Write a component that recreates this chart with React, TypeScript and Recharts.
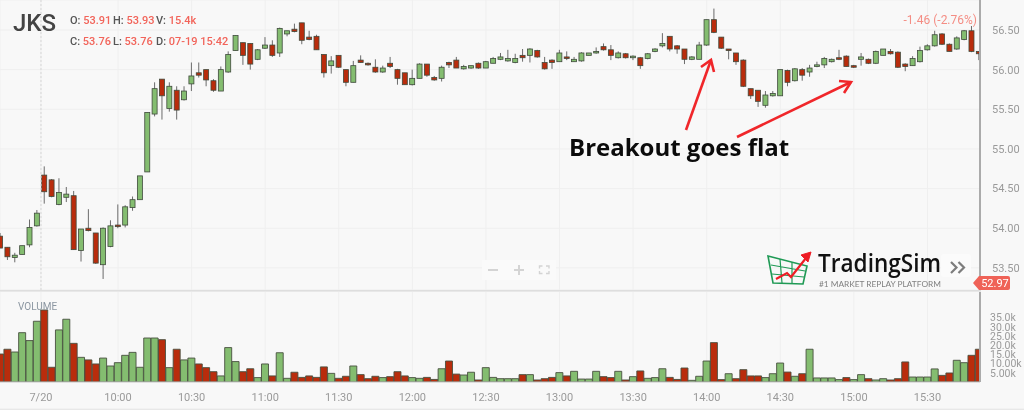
import React from 'react';
import { ComposedChart, Bar, Cell, XAxis, YAxis, CartesianGrid, ReferenceLine } from 'recharts';

// 3 minute bars, the first one prints at 9:12 and the last at 15:51
const firstBarMinute = 552;
const barMinutes = 3;

const openPrices = [
  53.9, 53.76, 53.63, 53.67, 53.79, 54.03, 54.67, 54.61, 54.3, 54.39, 54.41, 53.72, 54.0, 53.94, 53.54, 53.77,
  54.04, 54.04, 54.26, 54.36, 54.71, 55.44, 55.88, 55.51, 55.74, 55.62, 55.82, 55.96, 56.0, 55.86, 55.73, 55.97,
  56.24, 56.34, 56.33, 56.13, 56.27, 56.31, 56.21, 56.45, 56.51, 56.59, 56.41, 56.42, 56.19, 56.05, 56.18, 56.0,
  55.84, 56.12, 56.08, 56.03, 55.97, 56.08, 56.0, 55.96, 55.81, 55.89, 56.07, 55.9, 55.89, 56.09, 56.12, 56.01,
  56.02, 56.08, 56.02, 56.08, 56.13, 56.11, 56.09, 56.18, 56.18, 56.24, 56.09, 56.12, 56.1, 56.16, 56.1, 56.11,
  56.18, 56.21, 56.29, 56.25, 56.15, 56.2, 56.15, 56.15, 56.14, 56.23, 56.3, 56.42, 56.3, 56.26, 56.13, 56.13,
  56.31, 56.63, 56.41, 56.26, 56.21, 56.12, 55.76, 55.74, 55.55, 55.67, 55.67, 55.99, 55.86, 56.0, 55.97, 56.04,
  56.06, 56.1, 56.15, 56.17, 56.05, 56.13, 56.13, 56.08, 56.18, 56.23, 56.22, 56.07, 56.05, 56.1, 56.25, 56.3,
  56.45, 56.32, 56.26, 56.38, 56.49, 56.23,
];
const highPrices = [
  53.94, 53.76, 53.69, 53.78, 54.11, 54.23, 54.78, 54.62, 54.63, 54.52, 54.47, 53.99, 54.24, 53.94, 54.01, 54.1,
  54.3, 54.29, 54.4, 54.66, 55.46, 55.84, 55.88, 55.84, 55.79, 55.79, 56.09, 56.09, 56.0, 55.88, 56.04, 56.23,
  56.43, 56.34, 56.33, 56.26, 56.41, 56.37, 56.53, 56.49, 56.58, 56.59, 56.49, 56.44, 56.19, 56.17, 56.18, 56.0,
  56.11, 56.18, 56.09, 56.13, 56.05, 56.16, 56.01, 55.96, 56.0, 56.08, 56.07, 55.92, 56.05, 56.1, 56.16, 56.06,
  56.05, 56.09, 56.11, 56.16, 56.21, 56.25, 56.2, 56.26, 56.27, 56.25, 56.16, 56.13, 56.25, 56.23, 56.16, 56.22,
  56.21, 56.28, 56.33, 56.31, 56.23, 56.21, 56.18, 56.16, 56.21, 56.27, 56.46, 56.42, 56.31, 56.26, 56.17, 56.35,
  56.63, 56.77, 56.41, 56.26, 56.21, 56.13, 55.76, 55.74, 55.73, 55.73, 56.0, 56.0, 56.02, 56.02, 56.06, 56.1,
  56.16, 56.14, 56.25, 56.18, 56.06, 56.21, 56.14, 56.24, 56.26, 56.26, 56.23, 56.08, 56.17, 56.29, 56.32, 56.49,
  56.46, 56.33, 56.42, 56.5, 56.55, 56.23,
];
const lowPrices = [
  53.75, 53.6, 53.57, 53.67, 53.76, 54.02, 54.31, 54.39, 54.29, 54.33, 53.73, 53.58, 53.96, 53.55, 53.36, 53.76,
  54.0, 54.01, 54.22, 54.36, 54.71, 55.41, 55.37, 55.47, 55.37, 55.61, 55.73, 55.9, 55.79, 55.72, 55.73, 55.96,
  56.24, 56.06, 56.0, 56.12, 56.26, 56.16, 56.16, 56.42, 56.47, 56.32, 56.37, 56.25, 55.9, 55.95, 56.02, 55.79,
  55.84, 56.09, 56.05, 55.96, 55.96, 56.02, 55.81, 55.81, 55.8, 55.89, 55.91, 55.86, 55.85, 56.02, 56.02, 56.0,
  56.01, 56.01, 56.02, 56.08, 56.12, 56.1, 56.08, 56.1, 56.09, 56.15, 56.0, 56.01, 56.1, 56.12, 56.1, 56.1,
  56.18, 56.2, 56.24, 56.12, 56.14, 56.14, 56.12, 56.01, 56.13, 56.22, 56.28, 56.23, 56.2, 56.07, 56.12, 56.13,
  56.3, 56.46, 56.26, 56.13, 56.06, 55.78, 55.63, 55.53, 55.52, 55.66, 55.67, 55.79, 55.85, 55.86, 55.91, 56.03,
  56.02, 56.09, 56.12, 56.04, 56.02, 56.05, 56.07, 56.07, 56.18, 56.19, 56.02, 55.98, 56.05, 56.09, 56.24, 56.29,
  56.31, 56.23, 56.25, 56.37, 56.22, 56.12,
];
const closePrices = [
  53.75, 53.64, 53.66, 53.78, 54.01, 54.19, 54.46, 54.4, 54.45, 54.43, 53.73, 53.99, 53.97, 53.56, 54.0, 54.03,
  54.02, 54.27, 54.36, 54.66, 55.46, 55.76, 55.67, 55.79, 55.49, 55.73, 55.92, 55.93, 55.87, 55.74, 56.0, 56.19,
  56.43, 56.18, 56.07, 56.25, 56.31, 56.18, 56.52, 56.49, 56.48, 56.37, 56.38, 56.25, 55.96, 56.11, 56.03, 55.84,
  56.05, 56.09, 56.06, 55.97, 56.02, 56.04, 55.89, 55.81, 55.89, 56.07, 55.93, 55.87, 56.03, 56.06, 56.02, 56.04,
  56.05, 56.02, 56.1, 56.14, 56.16, 56.14, 56.14, 56.15, 56.26, 56.16, 56.01, 56.09, 56.21, 56.14, 56.13, 56.21,
  56.21, 56.23, 56.25, 56.18, 56.21, 56.15, 56.17, 56.05, 56.2, 56.26, 56.33, 56.26, 56.26, 56.13, 56.16, 56.31,
  56.63, 56.47, 56.27, 56.24, 56.1, 55.79, 55.67, 55.6, 55.68, 55.7, 56.0, 55.84, 56.01, 55.93, 56.02, 56.06,
  56.14, 56.13, 56.13, 56.04, 56.03, 56.16, 56.08, 56.23, 56.26, 56.2, 56.03, 56.04, 56.14, 56.24, 56.3, 56.44,
  56.32, 56.23, 56.4, 56.49, 56.23, 56.2,
];
// thousands of shares
const volumes = [
  15.2, 17.8, 16.3, 26.8, 22.5, 33.0, 39.1, 8.0, 28.3, 34.1, 21.0, 13.4, 12.0, 9.8, 13.0, 8.7,
  10.5, 14.5, 16.1, 8.0, 23.9, 23.9, 23.0, 7.8, 17.8, 12.0, 13.0, 9.8, 7.8, 5.6, 3.3, 18.7,
  11.1, 5.6, 7.2, 2.4, 9.8, 3.3, 15.9, 2.0, 5.3, 2.5, 3.3, 2.5, 8.2, 4.7, 2.0, 3.1,
  8.7, 4.0, 1.8, 3.1, 2.4, 2.9, 5.6, 3.3, 2.4, 2.0, 2.5, 1.4, 7.2, 11.4, 4.3, 3.8,
  5.3, 1.1, 7.8, 2.5, 1.8, 1.8, 1.8, 4.0, 4.0, 1.1, 1.8, 2.5, 5.1, 3.3, 5.8, 1.6,
  1.6, 5.8, 2.9, 2.4, 5.8, 1.1, 2.9, 6.0, 2.0, 2.4, 7.2, 2.5, 1.4, 7.6, 0.9, 3.1,
  11.4, 21.4, 1.3, 4.5, 1.8, 6.7, 3.3, 3.3, 2.4, 4.5, 10.3, 5.4, 3.1, 4.5, 17.8, 2.2,
  2.2, 2.2, 1.3, 2.4, 1.3, 4.0, 1.8, 1.1, 1.8, 1.1, 1.8, 10.9, 2.7, 2.7, 2.7, 7.1,
  3.6, 4.9, 11.8, 10.5, 14.5, 17.8,
];
// 1 = green volume bar, 0 = red, not always the same as the candle above it
const greenVolume = [
  0, 0, 1, 1, 1, 1, 0, 0, 1, 1, 0, 1, 0, 0, 1, 1,
  1, 1, 1, 1, 1, 1, 0, 1, 0, 1, 1, 0, 0, 0, 1, 1,
  1, 0, 0, 1, 1, 0, 1, 1, 0, 0, 0, 0, 0, 1, 0, 0,
  1, 0, 0, 0, 1, 0, 0, 0, 1, 1, 0, 0, 1, 0, 0, 1,
  1, 0, 1, 1, 1, 1, 1, 0, 1, 0, 0, 0, 1, 0, 1, 1,
  1, 1, 0, 0, 1, 0, 1, 0, 1, 1, 1, 0, 0, 0, 1, 1,
  1, 0, 0, 1, 0, 0, 0, 0, 1, 1, 1, 0, 1, 0, 1, 1,
  1, 1, 1, 0, 1, 1, 0, 1, 1, 0, 0, 0, 1, 1, 1, 1,
  0, 0, 1, 1, 0, 0,
];

const priceTicks = [53.5, 54, 54.5, 55, 55.5, 56, 56.5];
const volumeTicks = [5, 10, 15, 20, 25, 30, 35];
const volumeTickLabels = ['5.00k', '10.00k', '15.0k', '20.0k', '25.0k', '30.0k', '35.0k'];
const timeTicks = [568.6, 600, 630, 660, 690, 720, 750, 780, 810, 840, 870, 900, 930];
const timeTickLabels = ['7/20', '10:00', '10:30', '11:00', '11:30', '12:00', '12:30', '13:00', '13:30', '14:00', '14:30', '15:00', '15:30'];

const upColor = '#84bd70';
const downColor = '#b92c0c';
const edgeColor = '#3f4a3c';
const gridColor = '#efefef';
const axisTextColor = '#9a9a9a';
const alertRed = '#f2645a';
const timeDomain: [number, number] = [551.9, 951.4];

const table = openPrices.map((open, i) => ({
  minute: firstBarMinute + i * barMinutes,
  open,
  high: highPrices[i],
  low: lowPrices[i],
  close: closePrices[i],
  volume: volumes[i],
  isUp: greenVolume[i] === 1,
}));

const Candle = (props: any) => {
  const { x, y, width, height, payload } = props;
  const { open, close, high, low } = payload;
  const perUnit = Math.abs(height) / (high - low);
  const top = Math.min(y, y + height);
  const bodyTop = top + (high - Math.max(open, close)) * perUnit;
  const bodyHeight = Math.max(Math.abs(open - close) * perUnit, 1.5);
  const center = x + width / 2;
  return (
    <g>
      <line x1={center} x2={center} y1={top} y2={top + Math.abs(height)} stroke="#6b6b6b" strokeWidth={1} />
      <rect
        x={x}
        y={bodyTop}
        width={width}
        height={bodyHeight}
        fill={close >= open ? upColor : downColor}
        stroke={edgeColor}
        strokeWidth={0.8}
      />
    </g>
  );
};

const Header = () => {
  const label = { fill: '#555', fontWeight: 500 };
  const value = { fill: alertRed, fontWeight: 500 };
  return (
    <g fontFamily="Roboto" fontSize={11}>
      <text x={13} y={31} fontSize={24} fontWeight={500} fill="#444">JKS</text>
      <text x={70} y={24}><tspan {...label}>O: </tspan><tspan {...value}>53.91</tspan></text>
      <text x={113} y={24}><tspan {...label}>H: </tspan><tspan {...value}>53.93</tspan></text>
      <text x={156} y={24}><tspan {...label}>V: </tspan><tspan {...value}>15.4k</tspan></text>
      <text x={70} y={45}><tspan {...label}>C: </tspan><tspan {...value}>53.76</tspan></text>
      <text x={113} y={45}><tspan {...label}>L: </tspan><tspan {...value}>53.76</tspan></text>
      <text x={156} y={45}><tspan {...label}>D: </tspan><tspan {...value}>07-19 15:42</tspan></text>
      <text x={977} y={24} textAnchor="end" fontSize={12} fill="#f48d84">-1.46 (-2.76%)</text>
      <text x={18} y={310} fontSize={10} fill="#8b96a1">VOLUME</text>
    </g>
  );
};

const Notes = () => (
  <g>
    <text x={569} y={156} fontFamily="Open Sans" fontWeight={700} fontSize={24} fill="#0b0b0b">Breakout goes flat</text>
    <g stroke="#f0262a" strokeWidth={2.6} fill="none">
      <path d="M686 130 L711 60" />
      <path d="M701 67 L711 60 L714 72" />
      <path d="M737 137 L851 82" />
      <path d="M839 81 L851 82 L844 93" />
    </g>
  </g>
);

const ZoomBar = () => (
  <g>
    <rect x={482} y={260} width={74} height={20} fill="#fafafa" />
    <g stroke="#d4d4d4" strokeWidth={2} fill="none">
      <path d="M488 270 H498" />
      <path d="M514 270 H524 M519 265 V275" />
      <path
        d="M539.5 268.5 V266 H542.5 M546 266 H549 V268.5 M539.5 271 V273.5 H542.5 M546 273.5 H549 V271"
        strokeWidth={1.4}
      />
    </g>
  </g>
);

const Logo = () => (
  <g>
    <rect x={941} y={254} width={30} height={23} rx={3} fill="#fbfbfb" />
    <path d="M951 262 L956.5 267.5 L951 273 M958.5 262 L964 267.5 L958.5 273" stroke="#7d7d7d" strokeWidth={2.2} fill="none" />
    <g stroke="#1f9a55" fill="none" strokeWidth={1.2}>
      <path d="M768 256 L807 266 L803 284 L773 283 Z" strokeWidth={1.6} />
      <path d="M771 265 L805 271 M772 274 L804 277 M780 259 L782 283 M792 262 L792 284" />
    </g>
    <path d="M776 279 L787 273 L791 277 L806 258" stroke="#ee1c25" strokeWidth={2.2} fill="none" />
    <path d="M801 255 L811 252 L808 262 Z" fill="#ee1c25" stroke="#ee1c25" />
    <text
      x={818}
      y={272}
      fontFamily="Open Sans"
      fontWeight={600}
      fontSize={25}
      fill="#111"
      textLength={123}
      lengthAdjust="spacingAndGlyphs"
    >
      TradingSim
    </text>
    <text x={819} y={286.5} fontFamily="Lato" fontSize={8.3} fill="#808080">#1 MARKET REPLAY PLATFORM</text>
  </g>
);

const PriceTag = () => (
  <g>
    <path d="M973 283 L979 276 H1008 Q1010 276 1010 278 V288 Q1010 290 1008 290 H979 Z" fill="#ef6257" />
    <text x={995} y={287} textAnchor="middle" fontFamily="Roboto" fontSize={11} fill="#fff">52.97</text>
  </g>
);

export default function App() {
  const xAxisProps = {
    dataKey: 'minute',
    type: 'number' as const,
    domain: timeDomain,
    ticks: timeTicks,
    allowDataOverflow: true,
  };

  return (
    <div
      style={{
        position: 'absolute',
        left: 0,
        top: 0,
        width: 1024,
        height: 410,
        background: '#f8f8f8',
        overflow: 'hidden',
        filter: 'blur(0.45px)',
      }}
    >
      <div style={{ position: 'absolute', left: 0, top: 0 }}>
        <ComposedChart width={1024} height={290} data={table} margin={{ top: 0, right: 0, bottom: 0, left: 0 }}>
          <CartesianGrid stroke={gridColor} strokeWidth={1} />
          <XAxis {...xAxisProps} hide />
          <YAxis
            orientation="right"
            width={44}
            domain={[53.221, 56.878]}
            ticks={priceTicks}
            allowDataOverflow
            interval={0}
            axisLine={{ stroke: '#ababab', strokeWidth: 2 }}
            tickLine={false}
            tickMargin={6}
            tick={{ fill: axisTextColor, fontSize: 11, fontFamily: 'Roboto' }}
            tickFormatter={(v: number) => v.toFixed(2)}
          />
          <ReferenceLine x={timeTicks[0]} stroke="#d6d6d6" strokeDasharray="2 2" />
          <Bar
            dataKey={(d: any) => [d.low, d.high]}
            barSize={5}
            shape={<Candle />}
            isAnimationActive={false}
          />
        </ComposedChart>
      </div>
      <div style={{ position: 'absolute', left: 0, top: 290 }}>
        <ComposedChart width={1024} height={120} data={table} margin={{ top: 2, right: 0, bottom: 0, left: 0 }}>
          <CartesianGrid stroke={gridColor} strokeWidth={1} horizontal={false} />
          <XAxis
            {...xAxisProps}
            height={28}
            interval={0}
            axisLine={{ stroke: '#c4c4c4' }}
            tickLine={false}
            tickMargin={5}
            tick={{ fill: axisTextColor, fontSize: 11, fontFamily: 'Roboto' }}
            tickFormatter={(v: number) => timeTickLabels[timeTicks.indexOf(v)]}
          />
          <YAxis
            orientation="right"
            width={44}
            domain={[0, 48.9]}
            ticks={volumeTicks}
            allowDataOverflow
            interval={0}
            axisLine={{ stroke: '#ababab', strokeWidth: 2 }}
            tickLine={false}
            tickMargin={4}
            tick={{ fill: axisTextColor, fontSize: 10.5, fontFamily: 'Roboto' }}
            tickFormatter={(v: number) => volumeTickLabels[volumeTicks.indexOf(v)]}
          />
          <Bar dataKey="volume" barSize={7} stroke="#47503f" strokeWidth={0.9} isAnimationActive={false}>
            {table.map((d) => (
              <Cell key={d.minute} fill={d.isUp ? upColor : downColor} />
            ))}
          </Bar>
        </ComposedChart>
      </div>
      <svg width={1024} height={410} style={{ position: 'absolute', left: 0, top: 0, pointerEvents: 'none' }}>
        <rect x={0} y={290} width={981} height={1.6} fill="#dedede" />
        <rect x={0} y={408.6} width={1024} height={1.4} fill="#e8e8e8" />
        <Header />
        <ZoomBar />
        <Notes />
        <Logo />
        <PriceTag />
      </svg>
    </div>
  );
}
